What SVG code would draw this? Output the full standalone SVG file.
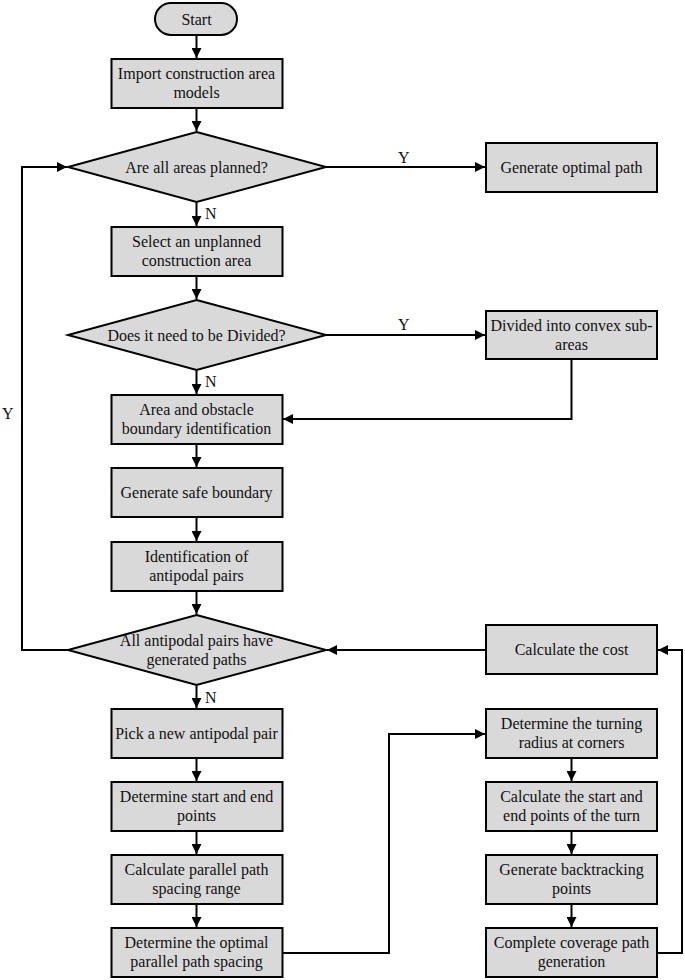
<svg xmlns="http://www.w3.org/2000/svg" width="685" height="980" viewBox="0 0 685 980">
<style>
.n{fill:#d9d9d9;stroke:#000;stroke-width:2}
.t{font-size:16px;fill:#111;text-anchor:middle}
.c{fill:none;stroke:#000;stroke-width:2}
.l{font-size:16px;fill:#111}
</style>
<defs>
<marker id="ah" viewBox="0 0 10 10" refX="10" refY="5" markerWidth="5" markerHeight="5" orient="auto" markerUnits="strokeWidth">
<path d="M0,0 L10,5 L0,10 z" fill="#000"/>
</marker>
</defs>
<rect width="685" height="980" fill="#fff"/>
<g font-family="Liberation Serif, Times New Roman, serif">
<g id="connectors">
<path class="c" d="M196.5,35 V58" marker-end="url(#ah)"/>
<path class="c" d="M196.5,108 V131" marker-end="url(#ah)"/>
<path class="c" d="M196.5,202 V226" marker-end="url(#ah)"/>
<path class="c" d="M196.5,276 V299" marker-end="url(#ah)"/>
<path class="c" d="M196.5,370 V394" marker-end="url(#ah)"/>
<path class="c" d="M196.5,444 V467" marker-end="url(#ah)"/>
<path class="c" d="M196.5,517 V541" marker-end="url(#ah)"/>
<path class="c" d="M196.5,591 V614" marker-end="url(#ah)"/>
<path class="c" d="M196.5,685 V708" marker-end="url(#ah)"/>
<path class="c" d="M196.5,758 V781" marker-end="url(#ah)"/>
<path class="c" d="M196.5,831 V854" marker-end="url(#ah)"/>
<path class="c" d="M196.5,904 V927" marker-end="url(#ah)"/>
<path class="c" d="M571.5,758 V781" marker-end="url(#ah)"/>
<path class="c" d="M571.5,831 V854" marker-end="url(#ah)"/>
<path class="c" d="M571.5,904 V927" marker-end="url(#ah)"/>
<path class="c" d="M326,167 H485" marker-end="url(#ah)"/>
<path class="c" d="M326,335 H485" marker-end="url(#ah)"/>
<path class="c" d="M571.5,359 V419 H283" marker-end="url(#ah)"/>
<path class="c" d="M68,650 H22 V167 H67" marker-end="url(#ah)"/>
<path class="c" d="M486,650 H327" marker-end="url(#ah)"/>
<path class="c" d="M657,953 H682 V650 H658" marker-end="url(#ah)"/>
<path class="c" d="M282,953 H389 V734 H485" marker-end="url(#ah)"/>
<text class="l" x="398" y="163">Y</text>
<text class="l" x="205" y="219">N</text>
<text class="l" x="398" y="330">Y</text>
<text class="l" x="205" y="387">N</text>
<text class="l" x="2" y="419">Y</text>
<text class="l" x="205" y="703">N</text>
</g>
<g id="start"><rect class="n" x="155" y="3" width="82" height="32" rx="16"/><text class="t" x="196.5" y="24.5">Start</text></g>
<g id="import"><rect class="n" x="111.5" y="59" width="171" height="49"/><text class="t" x="196.5" y="79">Import construction area</text><text class="t" x="196.5" y="98">models</text></g>
<g id="d1"><polygon class="n" points="196.5,132 326,167 196.5,202 68,167"/><text class="t" x="196.5" y="172.5">Are all areas planned?</text></g>
<g id="optimal"><rect class="n" x="486" y="143" width="171" height="49"/><text class="t" x="571.5" y="173">Generate optimal path</text></g>
<g id="select"><rect class="n" x="111.5" y="227" width="171" height="49"/><text class="t" x="196.5" y="247">Select an unplanned</text><text class="t" x="196.5" y="266">construction area</text></g>
<g id="d2"><polygon class="n" points="196.5,300 326,335 196.5,370 68,335"/><text class="t" x="196.5" y="340.5">Does it need to be Divided?</text></g>
<g id="divided"><rect class="n" x="486" y="311" width="171" height="48"/><text class="t" x="571.5" y="330.5">Divided into convex sub-</text><text class="t" x="571.5" y="349.5">areas</text></g>
<g id="area"><rect class="n" x="111.5" y="395" width="171" height="49"/><text class="t" x="196.5" y="415">Area and obstacle</text><text class="t" x="196.5" y="434">boundary identification</text></g>
<g id="safe"><rect class="n" x="111.5" y="468" width="171" height="49"/><text class="t" x="196.5" y="498">Generate safe boundary</text></g>
<g id="ident"><rect class="n" x="111.5" y="542" width="171" height="49"/><text class="t" x="196.5" y="562">Identification of</text><text class="t" x="196.5" y="581">antipodal pairs</text></g>
<g id="d3"><polygon class="n" points="196.5,615 326,650 196.5,685 68,650"/><text class="t" x="196.5" y="646">All antipodal pairs have</text><text class="t" x="196.5" y="665">generated paths</text></g>
<g id="cost"><rect class="n" x="486" y="625" width="171" height="49"/><text class="t" x="571.5" y="655">Calculate the cost</text></g>
<g id="pick"><rect class="n" x="111.5" y="709" width="171" height="49"/><text class="t" x="196.5" y="739">Pick a new antipodal pair</text></g>
<g id="startend"><rect class="n" x="111.5" y="782" width="171" height="49"/><text class="t" x="196.5" y="802">Determine start and end</text><text class="t" x="196.5" y="821">points</text></g>
<g id="range"><rect class="n" x="111.5" y="855" width="171" height="49"/><text class="t" x="196.5" y="875">Calculate parallel path</text><text class="t" x="196.5" y="894">spacing range</text></g>
<g id="spacing"><rect class="n" x="111.5" y="928" width="171" height="49"/><text class="t" x="196.5" y="948">Determine the optimal</text><text class="t" x="196.5" y="967">parallel path spacing</text></g>
<g id="radius"><rect class="n" x="486" y="709" width="171" height="49"/><text class="t" x="571.5" y="729">Determine the turning</text><text class="t" x="571.5" y="748">radius at corners</text></g>
<g id="turn"><rect class="n" x="486" y="782" width="171" height="49"/><text class="t" x="571.5" y="802">Calculate the start and</text><text class="t" x="571.5" y="821">end points of the turn</text></g>
<g id="backtrack"><rect class="n" x="486" y="855" width="171" height="49"/><text class="t" x="571.5" y="875">Generate backtracking</text><text class="t" x="571.5" y="894">points</text></g>
<g id="complete"><rect class="n" x="486" y="928" width="171" height="49"/><text class="t" x="571.5" y="948">Complete coverage path</text><text class="t" x="571.5" y="967">generation</text></g>
</g>
</svg>
